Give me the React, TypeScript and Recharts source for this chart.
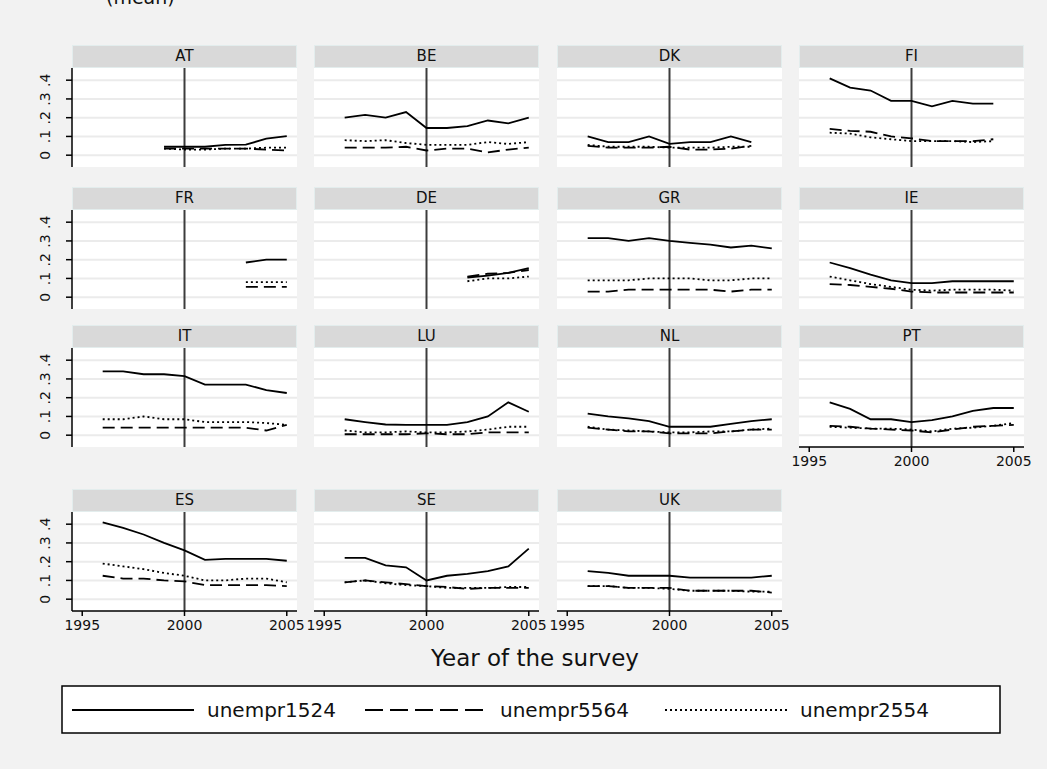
import React from 'react';
import { LineChart, Line, XAxis, YAxis, ReferenceLine } from 'recharts';

const years = [1996, 1997, 1998, 1999, 2000, 2001, 2002, 2003, 2004, 2005];
const countries = ['AT', 'BE', 'DK', 'FI', 'FR', 'DE', 'GR', 'IE', 'IT', 'LU', 'NL', 'PT', 'ES', 'SE', 'UK'];
const yTicks = [0, 0.1, 0.2, 0.3, 0.4];
const xTicks = [1995, 2000, 2005];
const _ = null;

const u1524: Record<string, (number | null)[]> = {
  AT: [_, _, _, 0.045, 0.045, 0.045, 0.055, 0.056, 0.088, 0.102],
  BE: [0.2, 0.215, 0.2, 0.23, 0.145, 0.145, 0.155, 0.185, 0.17, 0.2],
  DK: [0.1, 0.07, 0.07, 0.1, 0.06, 0.07, 0.07, 0.1, 0.07, _],
  FI: [0.41, 0.36, 0.345, 0.29, 0.29, 0.26, 0.29, 0.275, 0.275, _],
  FR: [_, _, _, _, _, _, _, 0.185, 0.2, 0.2],
  DE: [_, _, _, _, _, _, 0.105, 0.115, 0.13, 0.155],
  GR: [0.315, 0.315, 0.3, 0.315, 0.3, 0.29, 0.28, 0.265, 0.275, 0.26],
  IE: [0.185, 0.155, 0.12, 0.09, 0.075, 0.075, 0.085, 0.085, 0.085, 0.085],
  IT: [0.34, 0.34, 0.325, 0.325, 0.315, 0.27, 0.27, 0.27, 0.24, 0.225],
  LU: [0.085, 0.07, 0.057, 0.055, 0.055, 0.055, 0.07, 0.1, 0.175, 0.125],
  NL: [0.115, 0.1, 0.09, 0.075, 0.045, 0.045, 0.045, 0.06, 0.075, 0.085],
  PT: [0.175, 0.14, 0.085, 0.085, 0.07, 0.08, 0.1, 0.13, 0.145, 0.145],
  ES: [0.41, 0.38, 0.345, 0.3, 0.26, 0.21, 0.215, 0.215, 0.215, 0.205],
  SE: [0.22, 0.22, 0.18, 0.17, 0.1, 0.125, 0.135, 0.15, 0.175, 0.27],
  UK: [0.15, 0.14, 0.125, 0.125, 0.125, 0.115, 0.115, 0.115, 0.115, 0.125],
};

const u5564: Record<string, (number | null)[]> = {
  AT: [_, _, _, 0.035, 0.035, 0.035, 0.035, 0.035, 0.03, 0.025],
  BE: [0.04, 0.04, 0.04, 0.045, 0.025, 0.035, 0.035, 0.015, 0.03, 0.04],
  DK: [0.05, 0.04, 0.04, 0.04, 0.045, 0.03, 0.03, 0.035, 0.05, _],
  FI: [0.14, 0.13, 0.125, 0.1, 0.09, 0.075, 0.075, 0.075, 0.085, _],
  FR: [_, _, _, _, _, _, _, 0.055, 0.055, 0.055],
  DE: [_, _, _, _, _, _, 0.11, 0.125, 0.13, 0.145],
  GR: [0.03, 0.03, 0.04, 0.04, 0.04, 0.04, 0.04, 0.03, 0.04, 0.04],
  IE: [0.07, 0.065, 0.055, 0.045, 0.03, 0.025, 0.025, 0.025, 0.025, 0.025],
  IT: [0.04, 0.04, 0.04, 0.04, 0.04, 0.04, 0.04, 0.04, 0.025, 0.055],
  LU: [0.005, 0.005, 0.005, 0.005, 0.01, 0.005, 0.005, 0.015, 0.015, 0.015],
  NL: [0.04, 0.03, 0.02, 0.02, 0.01, 0.01, 0.01, 0.02, 0.03, 0.03],
  PT: [0.05, 0.045, 0.035, 0.03, 0.025, 0.015, 0.03, 0.045, 0.05, 0.055],
  ES: [0.125, 0.11, 0.11, 0.1, 0.095, 0.075, 0.075, 0.075, 0.075, 0.07],
  SE: [0.09, 0.1, 0.09, 0.08, 0.07, 0.065, 0.055, 0.06, 0.06, 0.06],
  UK: [0.07, 0.07, 0.06, 0.06, 0.06, 0.045, 0.045, 0.045, 0.045, 0.035],
};

const u2554: Record<string, (number | null)[]> = {
  AT: [_, _, _, 0.035, 0.03, 0.03, 0.035, 0.035, 0.04, 0.04],
  BE: [0.08, 0.075, 0.08, 0.065, 0.055, 0.055, 0.055, 0.07, 0.06, 0.07],
  DK: [0.055, 0.045, 0.045, 0.045, 0.04, 0.04, 0.04, 0.045, 0.045, _],
  FI: [0.12, 0.115, 0.095, 0.085, 0.075, 0.075, 0.075, 0.07, 0.075, _],
  FR: [_, _, _, _, _, _, _, 0.08, 0.08, 0.08],
  DE: [_, _, _, _, _, _, 0.085, 0.1, 0.1, 0.11],
  GR: [0.09, 0.09, 0.09, 0.1, 0.1, 0.1, 0.09, 0.09, 0.1, 0.1],
  IE: [0.11, 0.09, 0.07, 0.055, 0.04, 0.035, 0.04, 0.04, 0.04, 0.035],
  IT: [0.085, 0.085, 0.1, 0.085, 0.085, 0.07, 0.07, 0.07, 0.065, 0.055],
  LU: [0.025, 0.015, 0.015, 0.02, 0.015, 0.015, 0.02, 0.03, 0.045, 0.045],
  NL: [0.045, 0.03, 0.025, 0.02, 0.015, 0.015, 0.02, 0.02, 0.03, 0.035],
  PT: [0.045, 0.04, 0.035, 0.035, 0.03, 0.02, 0.035, 0.04, 0.05, 0.065],
  ES: [0.19, 0.175, 0.16, 0.14, 0.125, 0.1, 0.1, 0.11, 0.11, 0.09],
  SE: [0.09, 0.1, 0.085, 0.075, 0.07, 0.06, 0.06, 0.06, 0.065, 0.065],
  UK: [0.07, 0.07, 0.06, 0.06, 0.055, 0.045, 0.045, 0.045, 0.04, 0.04],
};

const FONT = '"DejaVu Sans", sans-serif';
const colLeft = [72, 314, 557, 799];
const rowTop = [45, 187, 325, 489];
const PW = 225;
const PH = 99;
const HH = 23;
const PAD = 22;

const DASH = '12 6';
const DOT = '2 3';

const YTick = (props: any) => {
  const { x, y, payload } = props;
  const v = payload.value;
  const label = v === 0 ? '0' : String(v).replace(/^0/, '');
  const tx = x - 16;
  return (
    <text x={tx} y={y} transform={`rotate(-90, ${tx}, ${y})`} textAnchor="middle" fontSize={14} fontFamily={FONT} fill="#111">
      {label}
    </text>
  );
};

const Panel = ({ code, idx }: { code: string; idx: number }) => {
  const col = idx % 4;
  const row = Math.floor(idx / 4);
  const left = colLeft[col];
  const top = rowTop[row];
  const showY = col === 0;
  const showX = row === 3 || code === 'PT';
  const yw = showY ? 50 : 0;
  const lp = showY ? 0 : PAD;
  const xh = showX ? 30 : 0;
  const data = years.map((yr, i) => ({ year: yr, a: u1524[code][i], b: u5564[code][i], c: u2554[code][i] }));
  return (
    <>
      <div
        style={{
          position: 'absolute', left, top, width: PW, height: HH, boxSizing: 'border-box',
          background: '#d9d9d9', border: '1.5px solid #e3eded', textAlign: 'center',
          fontFamily: FONT, fontSize: 15, lineHeight: '20px', color: '#111',
        }}
      >
        {code}
      </div>
      <div style={{ position: 'absolute', left, top: top + HH, width: PW, height: PH, background: '#ffffff' }} />
      <div style={{ position: 'absolute', left: left - yw - lp, top: top + HH }}>
        <LineChart width={PW + yw + lp + PAD} height={PH + xh} data={data} margin={{ top: 0, right: PAD, bottom: 0, left: lp }}>
          <XAxis
            dataKey="year" type="number" domain={[1994.5, 2005.5]} ticks={xTicks} interval={0} hide={!showX} height={xh}
            axisLine={{ stroke: '#000', strokeWidth: 1.5 }} tickLine={{ stroke: '#000', strokeWidth: 1.5 }}
            tickSize={5} tickMargin={4} tick={{ fontSize: 14, fontFamily: FONT, fill: '#111' }}
          />
          <YAxis
            type="number" domain={[-0.063, 0.465]} ticks={yTicks} interval={0} hide={!showY} width={yw}
            axisLine={{ stroke: '#000', strokeWidth: 1.5 }} tickLine={{ stroke: '#000', strokeWidth: 1.5 }}
            tickSize={6} tickMargin={0} tick={<YTick />}
          />
          {yTicks.map((v) => (
            <ReferenceLine key={v} y={v} stroke="#ebebeb" strokeWidth={2} />
          ))}
          <ReferenceLine x={2000} stroke="#3c3c3c" strokeWidth={2} />
          <Line type="linear" dataKey="a" stroke="#000" strokeWidth={1.8} dot={false} isAnimationActive={false} />
          <Line type="linear" dataKey="b" stroke="#000" strokeWidth={1.8} strokeDasharray={DASH} dot={false} isAnimationActive={false} />
          <Line type="linear" dataKey="c" stroke="#000" strokeWidth={1.8} strokeDasharray={DOT} dot={false} isAnimationActive={false} />
        </LineChart>
      </div>
    </>
  );
};

const legendItems = [
  { name: 'unempr1524', dash: undefined, x: 72 },
  { name: 'unempr5564', dash: '18 7', x: 365 },
  { name: 'unempr2554', dash: DOT, x: 665 },
];

export default function App() {
  return (
    <div style={{ position: 'absolute', left: 0, top: 0, width: 1047, height: 769, background: '#f2f2f2', overflow: 'hidden', fontFamily: FONT }}>
      <div style={{ position: 'absolute', left: 106, top: -14, fontSize: 19, color: '#111' }}>(mean)</div>
      {countries.map((c, i) => (
        <Panel key={c} code={c} idx={i} />
      ))}
      <div style={{ position: 'absolute', left: 0, width: 1070, top: 645, textAlign: 'center', fontSize: 23, color: '#111' }}>
        Year of the survey
      </div>
      <svg style={{ position: 'absolute', left: 0, top: 0 }} width={1047} height={769} pointerEvents="none">
        <rect x={62} y={686} width={938} height={47} fill="#fff" stroke="#000" strokeWidth={1.5} />
        {legendItems.map((it) => (
          <g key={it.name}>
            <line x1={it.x} x2={it.x + 122} y1={710} y2={710} stroke="#000" strokeWidth={1.8} strokeDasharray={it.dash} />
            <text x={it.x + 135} y={717} fontSize={20} fontFamily={FONT} fill="#111">
              {it.name}
            </text>
          </g>
        ))}
      </svg>
    </div>
  );
}
